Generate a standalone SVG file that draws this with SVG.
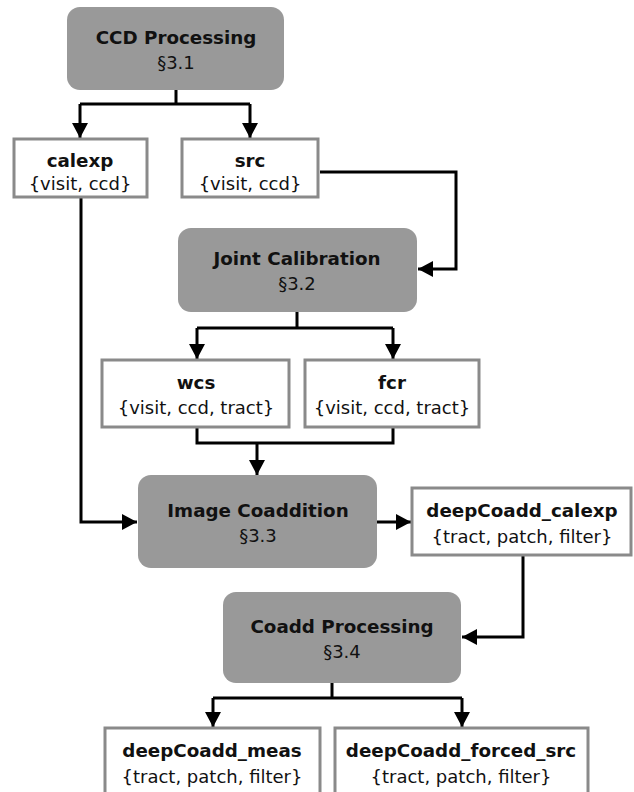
<svg xmlns="http://www.w3.org/2000/svg" width="634" height="792" viewBox="0 0 634 792">
<style>
.proc{fill:#999999;stroke:none}
.data{fill:#ffffff;stroke:#8a8a8a;stroke-width:3}
.t{font-family:"DejaVu Sans","Open Sans",sans-serif;font-size:18px;fill:#111;text-anchor:middle}
.b{font-weight:bold;font-size:18.3px}
.c{fill:none;stroke:#000;stroke-width:3;stroke-linejoin:miter}
</style>
<defs>
<marker id="ah" markerUnits="userSpaceOnUse" markerWidth="18" markerHeight="18" refX="15" refY="8.5" orient="auto">
<path d="M0,0.5 L15,8.5 L0,16.5 Z" fill="#000"/>
</marker>
</defs>
<rect width="634" height="792" fill="#fff"/>
<g id="connectors">
<path class="c" d="M176,90 V104 M80,104 H250" />
<path class="c" d="M80,104 V138" marker-end="url(#ah)"/>
<path class="c" d="M250,104 V138" marker-end="url(#ah)"/>
<path class="c" d="M320,172 H456 V269 H418" marker-end="url(#ah)"/>
<path class="c" d="M297,312 V328 M197,328 H393"/>
<path class="c" d="M197,328 V359" marker-end="url(#ah)"/>
<path class="c" d="M393,328 V359" marker-end="url(#ah)"/>
<path class="c" d="M197,427 V443 H393 V427 M257,443 V475" marker-end="url(#ah)"/>
<path class="c" d="M81,197 V522 H137" marker-end="url(#ah)"/>
<path class="c" d="M377,522 H411" marker-end="url(#ah)"/>
<path class="c" d="M523,556 V637 H462" marker-end="url(#ah)"/>
<path class="c" d="M332,683 V698 M213,698 H462"/>
<path class="c" d="M213,698 V727" marker-end="url(#ah)"/>
<path class="c" d="M462,698 V727" marker-end="url(#ah)"/>
</g>
<g id="ccd_processing">
<rect class="proc" x="67" y="7" width="217" height="83" rx="13"/>
<text class="t b" x="176" y="44">CCD Processing</text>
<text class="t" x="176" y="69">§3.1</text>
</g>
<g id="calexp">
<rect class="data" x="14" y="139" width="133" height="58"/>
<text class="t b" x="80" y="167">calexp</text>
<text class="t" x="80" y="190">{visit, ccd}</text>
</g>
<g id="src">
<rect class="data" x="182" y="139" width="136" height="58"/>
<text class="t b" x="250" y="167">src</text>
<text class="t" x="250" y="190">{visit, ccd}</text>
</g>
<g id="joint_calibration">
<rect class="proc" x="178" y="228" width="239" height="84" rx="13"/>
<text class="t b" x="297" y="265">Joint Calibration</text>
<text class="t" x="297" y="290">§3.2</text>
</g>
<g id="wcs">
<rect class="data" x="102" y="360" width="187" height="67"/>
<text class="t b" x="196" y="389">wcs</text>
<text class="t" x="196" y="414">{visit, ccd, tract}</text>
</g>
<g id="fcr">
<rect class="data" x="305" y="360" width="174" height="67"/>
<text class="t b" x="392" y="389">fcr</text>
<text class="t" x="392" y="414">{visit, ccd, tract}</text>
</g>
<g id="image_coaddition">
<rect class="proc" x="138" y="475" width="239" height="93" rx="13"/>
<text class="t b" x="258" y="517">Image Coaddition</text>
<text class="t" x="258" y="542">§3.3</text>
</g>
<g id="deepCoadd_calexp">
<rect class="data" x="412" y="488" width="219" height="67"/>
<text class="t b" x="522" y="517">deepCoadd_calexp</text>
<text class="t" x="522" y="543">{tract, patch, filter}</text>
</g>
<g id="coadd_processing">
<rect class="proc" x="223" y="592" width="238" height="91" rx="13"/>
<text class="t b" x="342" y="633">Coadd Processing</text>
<text class="t" x="342" y="658">§3.4</text>
</g>
<g id="deepCoadd_meas">
<rect class="data" x="105" y="728" width="215" height="80"/>
<text class="t b" x="212" y="757">deepCoadd_meas</text>
<text class="t" x="212" y="783">{tract, patch, filter}</text>
</g>
<g id="deepCoadd_forced_src">
<rect class="data" x="335" y="728" width="253" height="80"/>
<text class="t b" x="461" y="757">deepCoadd_forced_src</text>
<text class="t" x="461" y="783">{tract, patch, filter}</text>
</g>
</svg>
